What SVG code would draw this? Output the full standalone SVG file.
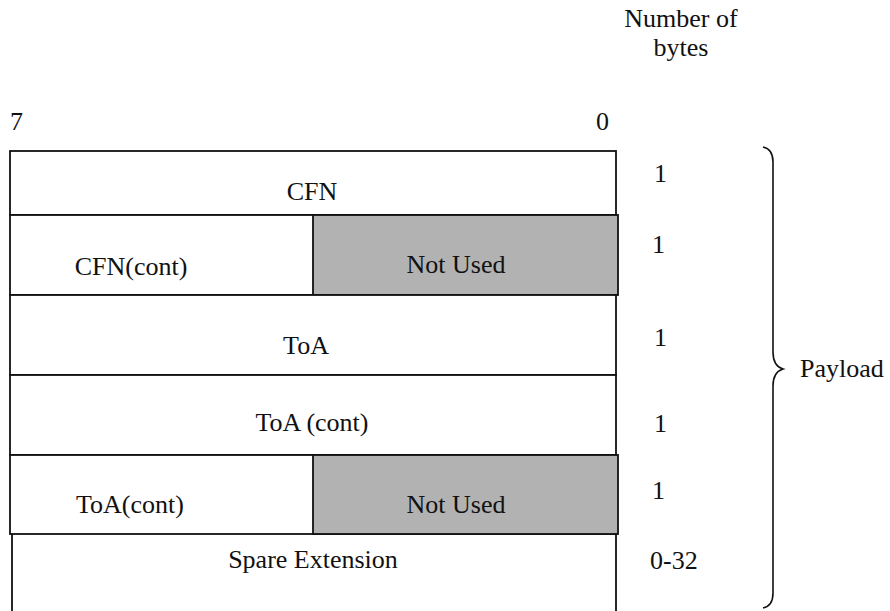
<svg xmlns="http://www.w3.org/2000/svg" width="890" height="611" viewBox="0 0 890 611">
<style>
text{font-family:"Liberation Serif","Times New Roman",serif;font-size:26px;fill:#111}
.row{fill:#fff;stroke:#111;stroke-width:1.8}
.gray{fill:#b2b2b2;stroke:#111;stroke-width:1.8}
.ln{fill:none;stroke:#111;stroke-width:1.8}
.brace{fill:none;stroke:#111;stroke-width:1.6}
.m{text-anchor:middle}
</style>
<rect width="890" height="611" fill="#fff"/>
<g id="header">
<text x="681" y="27" class="m">Number of</text>
<text x="681" y="56" class="m">bytes</text>
<text x="10" y="130">7</text>
<text x="596" y="130">0</text>
</g>
<g id="row-cfn">
<rect class="row" x="10" y="151" width="606" height="64"/>
<text x="312" y="200" class="m">CFN</text>
<text x="654" y="182">1</text>
</g>
<g id="row-cfn-cont">
<rect class="row" x="10" y="215" width="606" height="80"/>
<rect class="gray" x="313" y="215" width="305" height="80"/>
<text x="131" y="275" class="m">CFN(cont)</text>
<text x="456" y="273" class="m">Not Used</text>
<text x="652" y="253">1</text>
</g>
<g id="row-toa">
<rect class="row" x="10" y="295" width="606" height="80"/>
<text x="306" y="354" class="m">ToA</text>
<text x="654" y="346">1</text>
</g>
<g id="row-toa-cont">
<rect class="row" x="10" y="375" width="606" height="80"/>
<text x="312" y="431" class="m">ToA (cont)</text>
<text x="654" y="432">1</text>
</g>
<g id="row-toa-cont2">
<rect class="row" x="10" y="455" width="606" height="79"/>
<rect class="gray" x="313" y="455" width="305" height="79"/>
<text x="130" y="513" class="m">ToA(cont)</text>
<text x="456" y="513" class="m">Not Used</text>
<text x="652" y="499">1</text>
</g>
<g id="row-spare">
<path class="ln" d="M12,534 V611 M616,534 V611"/>
<text x="313" y="568" class="m">Spare Extension</text>
<text x="650" y="569">0-32</text>
</g>
<g id="payload">
<path class="brace" d="M763,147 Q773,149 773,162 V352 Q773,366 783,369 Q773,372 773,386 V593 Q773,606 763,608"/>
<text x="800" y="377">Payload</text>
</g>
</svg>
